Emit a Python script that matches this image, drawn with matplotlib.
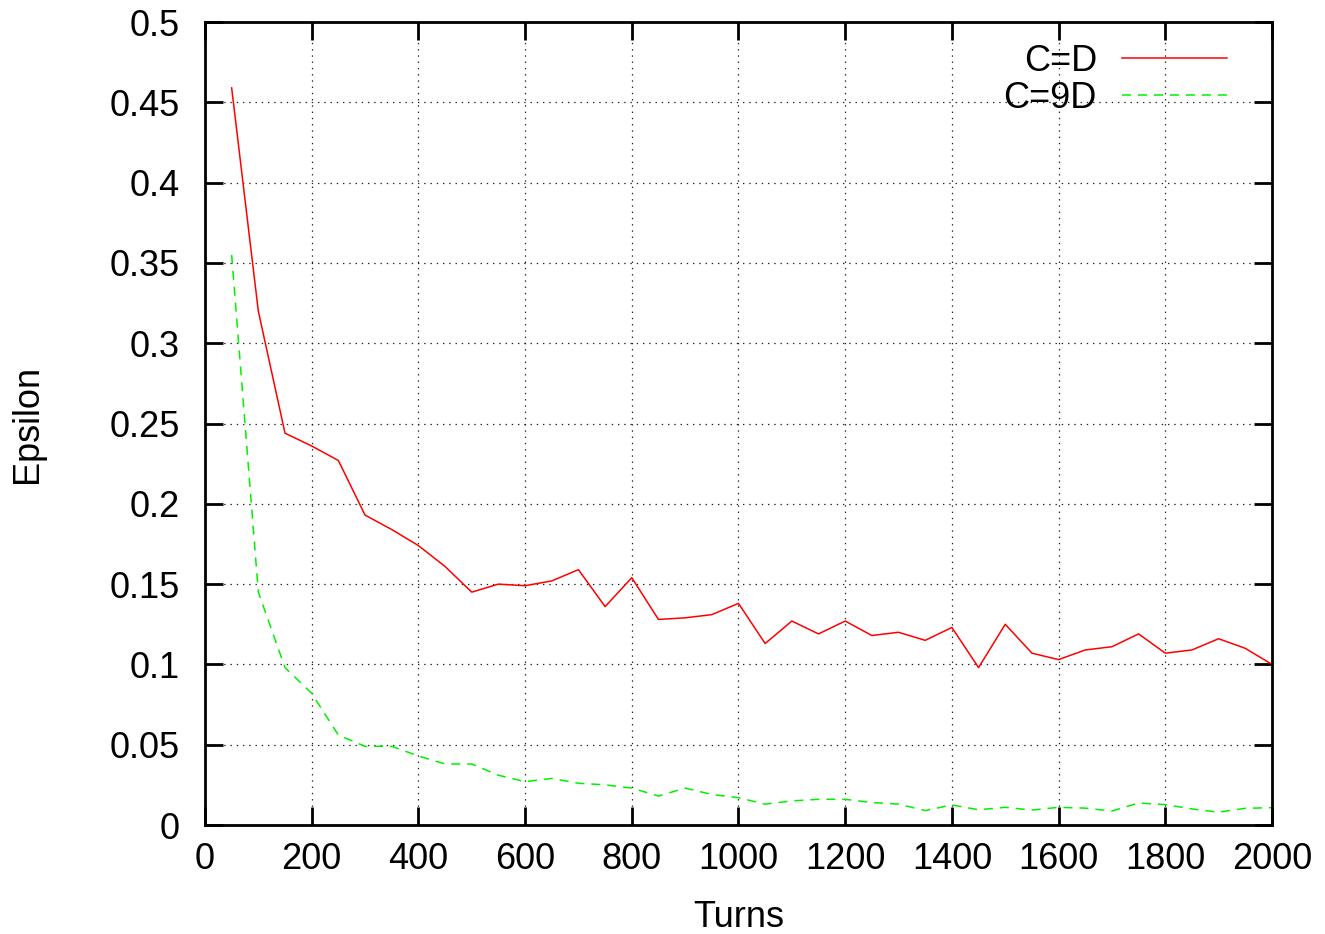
import matplotlib
matplotlib.use('Agg')
import matplotlib.pyplot as plt
from matplotlib.ticker import FuncFormatter

plt.rcParams['font.family'] = ['Liberation Sans', 'DejaVu Sans']
plt.rcParams['lines.scale_dashes'] = False

# turns 50, 100, ..., 2000
turns = [50 * (i + 1) for i in range(40)]

eps_c_d = [0.459, 0.320, 0.244, 0.236, 0.227, 0.193, 0.184, 0.174, 0.161, 0.145,
           0.150, 0.149, 0.152, 0.159, 0.136, 0.154, 0.128, 0.129, 0.131, 0.138,
           0.113, 0.127, 0.119, 0.127, 0.118, 0.120, 0.115, 0.123, 0.098, 0.125,
           0.107, 0.103, 0.109, 0.111, 0.119, 0.107, 0.109, 0.116, 0.110, 0.100]

eps_c_9d = [0.355, 0.145, 0.098, 0.082, 0.056, 0.049, 0.049, 0.043, 0.038, 0.038,
            0.031, 0.027, 0.029, 0.026, 0.025, 0.023, 0.018, 0.023, 0.019, 0.017,
            0.013, 0.015, 0.016, 0.016, 0.014, 0.013, 0.009, 0.0125, 0.0095, 0.011,
            0.0093, 0.011, 0.0105, 0.0087, 0.0137, 0.0127, 0.010, 0.008, 0.0104, 0.0108]

fs = 26

fig = plt.figure(figsize=(13.25, 9.34), dpi=100)
ax = fig.add_axes([0.1547, 0.1167, 0.8053, 0.8597])

ax.plot(turns, eps_c_d, color='#ff0000', lw=1.1, label='C=D')
ax.plot(turns, eps_c_9d, color='#00f000', lw=1.1, dashes=(6.5, 5), label='C=9D')

ax.set_xlim(0, 2000)
ax.set_ylim(0, 0.5)
ax.set_xticks(range(0, 2001, 200))
ax.set_yticks([i * 0.05 for i in range(11)])
ax.yaxis.set_major_formatter(FuncFormatter(lambda v, p: '%g' % round(v, 3)))

ax.grid(True, color='#222222', linestyle=(0, (1, 3.5)), lw=0.9)
ax.tick_params(direction='in', length=13, width=2, top=True, right=True,
               labelsize=fs)
ax.tick_params(axis='x', pad=12)
ax.tick_params(axis='y', pad=18)
for s in ax.spines.values():
    s.set_linewidth(2)

ax.set_xlabel('Turns', fontsize=fs)
ax.xaxis.label.set_va('baseline')
ax.xaxis.set_label_coords(0.5, -0.127)
ax.set_ylabel('Epsilon', fontsize=fs)
ax.yaxis.label.set_va('center')
ax.yaxis.set_label_coords(-0.166, 0.5)

leg = ax.legend(loc='upper right', bbox_to_anchor=(0.9578, 0.973), frameon=False,
                fontsize=fs, markerfirst=False, handlelength=2.9, handletextpad=0.7,
                labelspacing=0.05, borderaxespad=0, borderpad=0)
for t in leg.get_texts():
    t.set_ha('right')

fig.savefig('out.png', dpi=100)
